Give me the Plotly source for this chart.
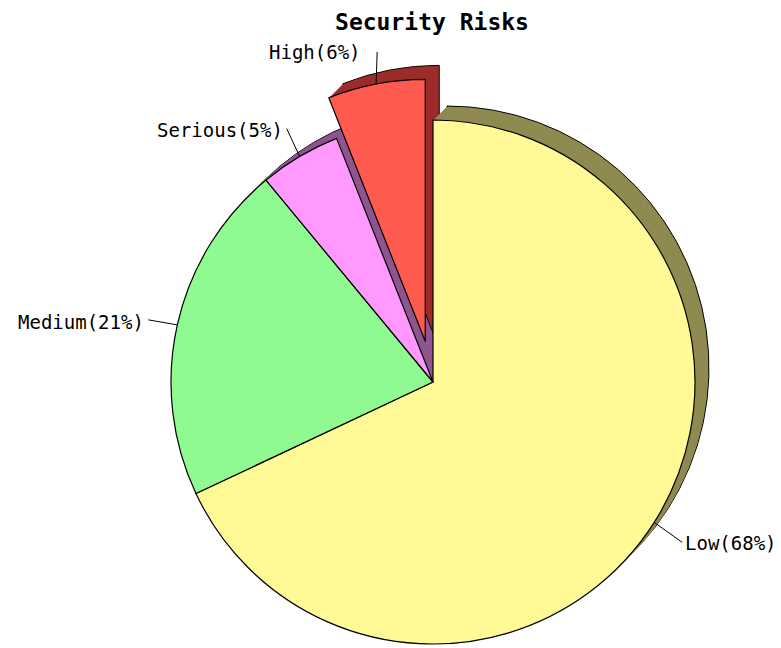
import math
import plotly.graph_objects as go

# ---- data ----
labels = ["Low", "Medium", "Serious", "High"]
values = [68, 21, 5, 6]
front_colors = ["#FFFA96", "#8FFA8F", "#FF99FF", "#FF5A4F"]
side_colors = ["#8F8A50", "#4F8A4F", "#8F558F", "#9B2D2A"]
pulled = "High"
title_text = "Security Risks"

# ---- geometry / style ----
W, H = 781, 648
CX, CY, R = 433, 382, 262
DEPTH = 14
PULL = 0.158
CLEAR = "rgba(0,0,0,0)"
FONT = "DejaVu Sans Mono"

total = sum(values)
hi = labels.index(pulled)


def mid_angle(i):
    start = sum(values[:i]) / total
    return (start + values[i] / total / 2) * 2 * math.pi


th = mid_angle(hi)
HX = CX + R * PULL * math.sin(th)
HY = CY - R * PULL * math.cos(th)


def dom(cx, cy):
    return dict(x=[(cx - R) / W, (cx + R) / W], y=[1 - (cy + R) / H, 1 - (cy - R) / H])


def pie(cx, cy, colors, widths):
    return go.Pie(
        labels=labels, values=values, sort=False, direction="clockwise", rotation=0,
        textinfo="none", hoverinfo="skip", showlegend=False, domain=dom(cx, cy),
        marker=dict(colors=colors, line=dict(color="black", width=widths)),
    )


def only(colors, keep, lw):
    c = [col if (i in keep) else CLEAR for i, col in enumerate(colors)]
    w = [lw if (i in keep) else 0 for i in range(len(colors))]
    return c, w


main_idx = [i for i in range(len(labels)) if i != hi]
traces = []
# pulled slice extrusion
for k in range(DEPTH, 0, -1):
    c, w = only(side_colors, [hi], 1 if k == DEPTH else 0)
    traces.append(pie(HX + k, HY - k, c, w))
# main extrusion
for k in range(DEPTH, 0, -1):
    c, w = only(side_colors, main_idx, 1 if k == DEPTH else 0)
    traces.append(pie(CX + k, CY - k, c, w))
# main front
c, w = only(front_colors, main_idx, 1.2)
traces.append(pie(CX, CY, c, w))
# pulled front
c, w = only(front_colors, [hi], 1.2)
traces.append(pie(HX, HY, c, w))

fig = go.Figure(traces)

# ---- labels with leader lines ----
elbow = {"Low": (28, 20), "Medium": (-29, -5), "Serious": (-13, -28), "High": (1, -32)}
text_off = {"Low": (1, 1), "Medium": (-2, 2), "Serious": (-2, 2), "High": (-14, 0)}

shapes, annots = [], []
for i, lab in enumerate(labels):
    a = mid_angle(i)
    cx, cy = (HX, HY) if i == hi else (CX, CY)
    px = cx + R * math.sin(a)
    py = cy - R * math.cos(a)
    ex, ey = px + elbow[lab][0], py + elbow[lab][1]
    shapes.append(dict(type="line", xref="paper", yref="paper",
                       x0=px / W, y0=1 - py / H, x1=ex / W, y1=1 - ey / H,
                       line=dict(color="black", width=1)))
    tx, ty = ex + text_off[lab][0], ey + text_off[lab][1]
    pct = round(values[i] / total * 100)
    annots.append(dict(text=f"{lab}({pct}%)", xref="paper", yref="paper",
                       x=tx / W, y=1 - ty / H, showarrow=False,
                       xanchor="left" if math.sin(a) > 0 else "right", yanchor="middle",
                       font=dict(family=FONT, size=19, color="black")))

fig.update_layout(
    width=W, height=H,
    margin=dict(l=0, r=0, t=0, b=0),
    paper_bgcolor="white", plot_bgcolor="white",
    title=dict(text=f"<b>{title_text}</b>", x=432 / W, y=1 - 22 / H,
               xanchor="center", yanchor="middle",
               font=dict(family=FONT, size=23, color="black")),
    shapes=shapes, annotations=annots,
)

fig.write_html("out.html", config={"displayModeBar": False},
               post_script="document.body.style.margin='0';document.body.style.overflow='hidden';")
